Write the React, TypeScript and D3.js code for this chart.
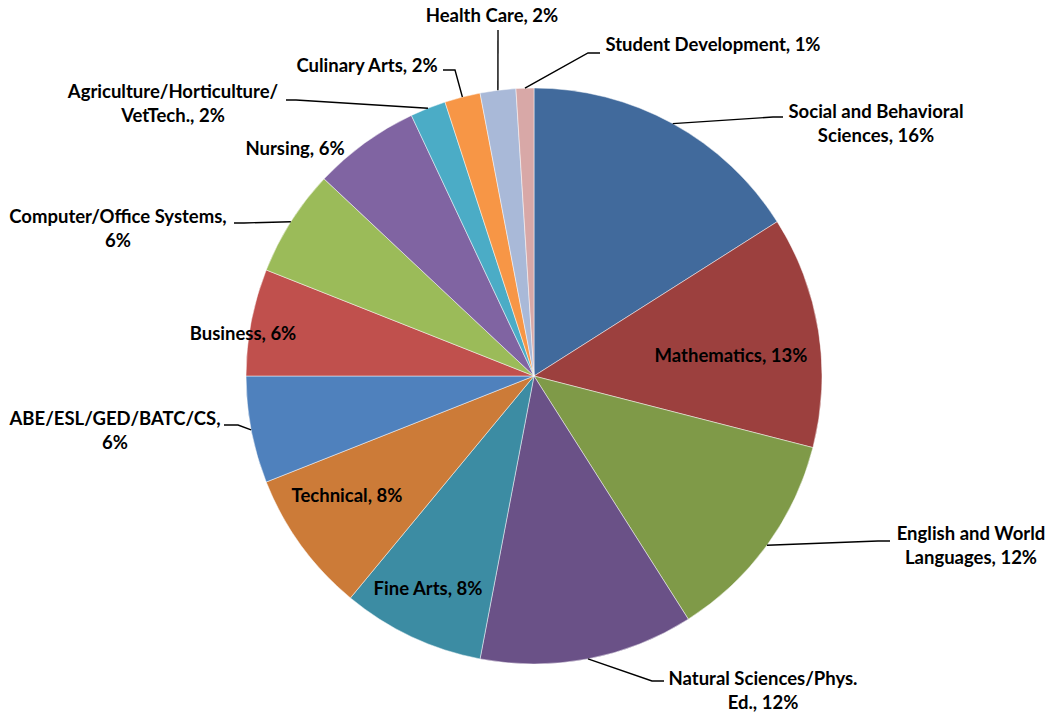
import React from 'react'
import * as d3 from 'd3'

const categories = [
  'Social and Behavioral Sciences',
  'Mathematics',
  'English and World Languages',
  'Natural Sciences/Phys. Ed.',
  'Fine Arts',
  'Technical',
  'ABE/ESL/GED/BATC/CS',
  'Business',
  'Computer/Office Systems',
  'Nursing',
  'Agriculture/Horticulture/VetTech.',
  'Culinary Arts',
  'Health Care',
  'Student Development',
]
const shares = [16, 13, 12, 12, 8, 8, 6, 6, 6, 6, 2, 2, 2, 1]
const labelLines = [
  ['Social and Behavioral', 'Sciences, 16%'],
  ['Mathematics, 13%'],
  ['English and World', 'Languages, 12%'],
  ['Natural Sciences/Phys.', 'Ed., 12%'],
  ['Fine Arts, 8%'],
  ['Technical, 8%'],
  ['ABE/ESL/GED/BATC/CS,', '6%'],
  ['Business, 6%'],
  ['Computer/Office Systems,', '6%'],
  ['Nursing, 6%'],
  ['Agriculture/Horticulture/', 'VetTech., 2%'],
  ['Culinary Arts, 2%'],
  ['Health Care, 2%'],
  ['Student Development, 1%'],
]

const colors = [
  '#416a9c', '#9c403e', '#7f9a48', '#6a5187', '#3c8ca3', '#cc7b38', '#4f81bd',
  '#c0504d', '#9bbb59', '#8064a2', '#4bacc6', '#f79646', '#a9b9d8', '#d8a8a7',
]

// label placement: text centre, first line y, and leader path points (null = no leader)
const labelPos: { x: number; y: number; leader: [number, number][] | null }[] = [
  { x: 876, y: 113, leader: [[773, 117], [783, 117]] },
  { x: 731, y: 357, leader: null },
  { x: 971, y: 535, leader: [[878, 541], [890, 541]] },
  { x: 763, y: 680, leader: [[652, 681], [664, 681]] },
  { x: 428, y: 590, leader: null },
  { x: 347, y: 497, leader: null },
  { x: 115, y: 420, leader: [[238, 425], [224, 425]] },
  { x: 243, y: 335, leader: null },
  { x: 118, y: 218, leader: [[244, 223], [234, 223]] },
  { x: 295, y: 150, leader: null },
  { x: 173, y: 93, leader: [[296, 100], [286, 100]] },
  { x: 367, y: 67, leader: [[455, 70], [443, 70]] },
  { x: 492, y: 17, leader: [[498, 30]] },
  { x: 713, y: 46, leader: [[588, 53], [600, 53]] },
]

const W = 1050
const H = 712
const cx = 534
const cy = 376
const R = 288

export default function App() {
  const pie = d3.pie<number>().sort(null).value(d => d)
  const arcs = pie(shares)
  const arc = d3.arc<d3.PieArcDatum<number>>().innerRadius(0).outerRadius(R)

  return (
    <svg width={W} height={H} style={{ position: 'absolute', left: 0, top: 0 }}>
      <rect width={W} height={H} fill="#fff" />
      <g transform={`translate(${cx},${cy})`}>
        {arcs.map((a, i) => (
          <path key={categories[i]} d={arc(a) || ''} fill={colors[i]} stroke="#fff" strokeWidth={0.6} strokeOpacity={0.8} />
        ))}
      </g>
      {arcs.map((a, i) => {
        const lp = labelPos[i]
        if (!lp.leader) return null
        const mid = (a.startAngle + a.endAngle) / 2
        const sx = cx + R * Math.sin(mid)
        const sy = cy - R * Math.cos(mid)
        const pts: [number, number][] = [[sx, sy], ...lp.leader]
        return (
          <path key={'l' + i} d={d3.line()(pts) || ''} fill="none" stroke="#000" strokeWidth={1.4} />
        )
      })}
      {labelLines.map((lines, i) => (
        <text
          key={'t' + i}
          x={labelPos[i].x}
          y={labelPos[i].y}
          textAnchor="middle"
          dominantBaseline="middle"
          fontFamily="Lato, 'Open Sans', sans-serif"
          fontWeight="bold"
          fontSize={18.5}
          fill="#000"
        >
          {lines.map((l, j) => (
            <tspan key={j} x={labelPos[i].x} dy={j === 0 ? 0 : 24}>{l}</tspan>
          ))}
        </text>
      ))}
    </svg>
  )
}
